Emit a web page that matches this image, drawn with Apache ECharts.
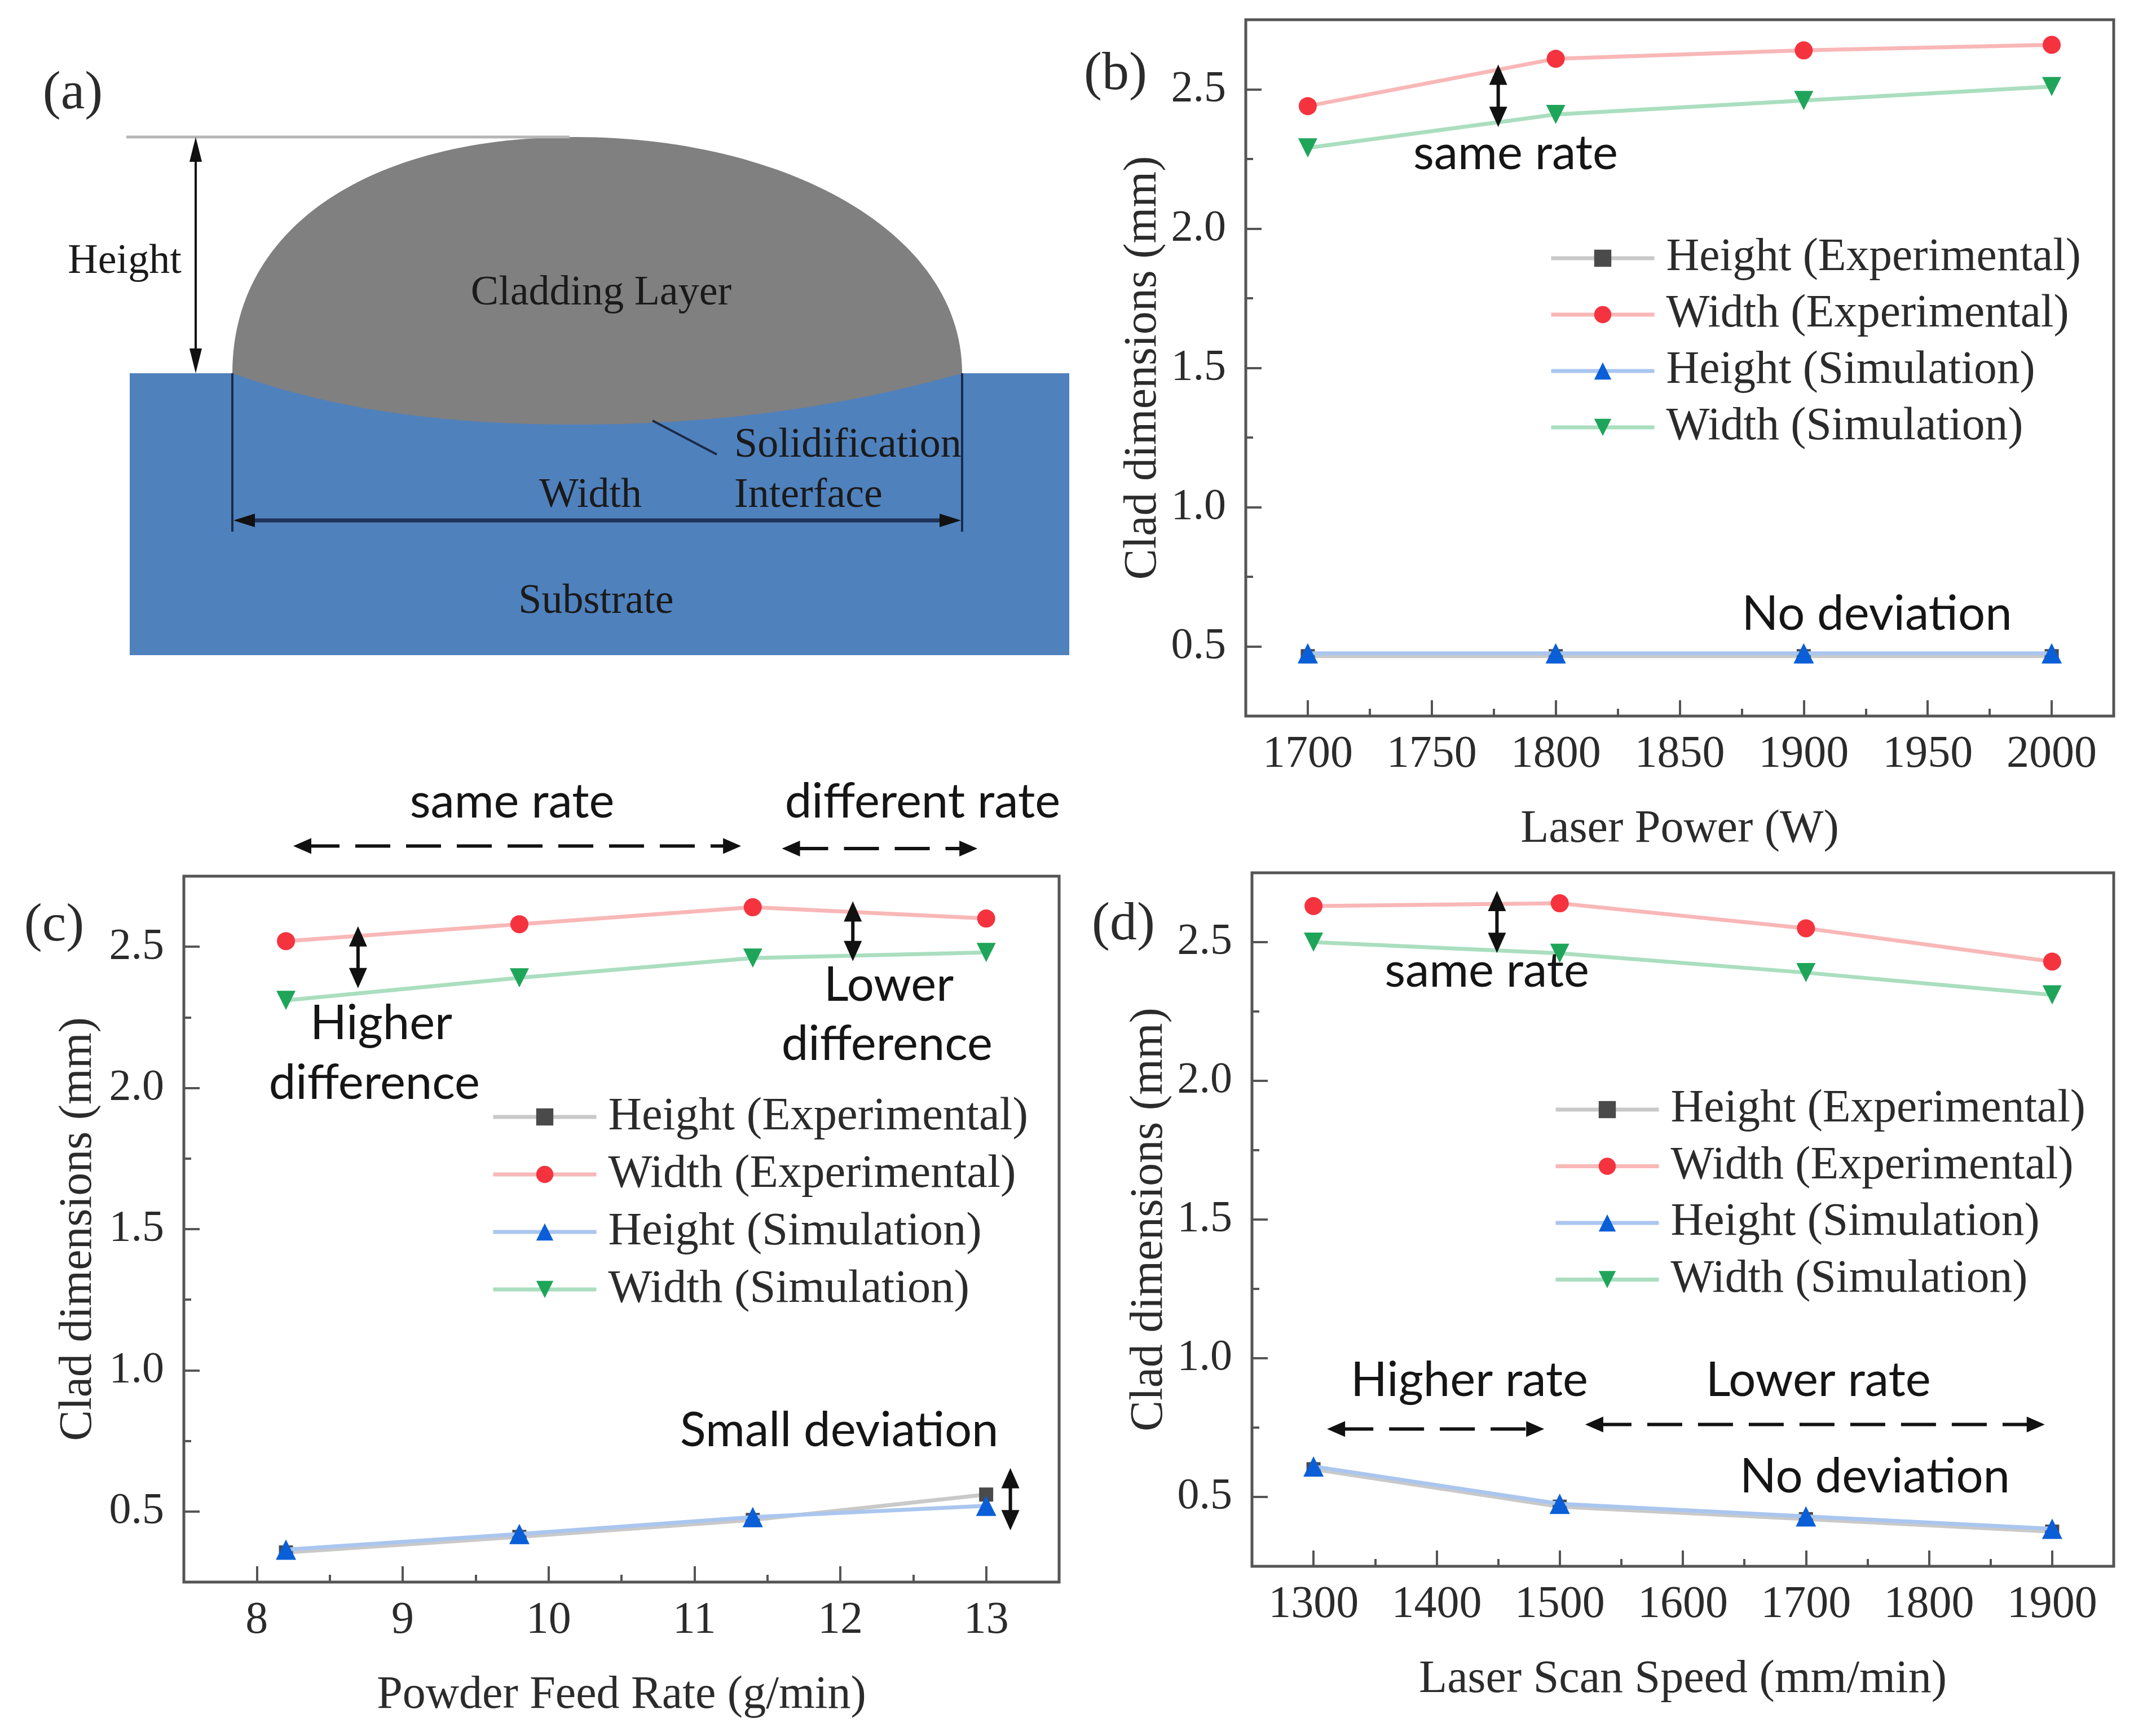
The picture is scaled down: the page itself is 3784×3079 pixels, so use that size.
<!DOCTYPE html>
<html>
<head>
<meta charset="utf-8">
<title>Clad dimensions</title>
<script src="https://cdn.jsdelivr.net/npm/echarts@6/dist/echarts.min.js"></script>
<style>
html, body { margin: 0; padding: 0; background: #fff; }
#chart0 { width: 3784px; height: 3079px; }
</style>
</head>
<body>
<div id="chart0"></div>
<script>
'use strict';

var seriesNames = ['Height (Experimental)', 'Width (Experimental)', 'Height (Simulation)', 'Width (Simulation)'];
var yTicks = [0.5, 1.0, 1.5, 2.0, 2.5];
var yMinorTicks = [0.75, 1.25, 1.75, 2.25];

// (b) laser power
var powerW = [1700, 1800, 1900, 2000];
var powerHeightExp = [0.465, 0.465, 0.465, 0.465];
var powerWidthExp = [2.44, 2.61, 2.64, 2.66];
var powerHeightSim = [0.475, 0.475, 0.475, 0.475];
var powerWidthSim = [2.29, 2.41, 2.46, 2.51];
var powerTicks = [1700, 1750, 1800, 1850, 1900, 1950, 2000];
var powerMinorTicks = [1725, 1775, 1825, 1875, 1925, 1975];

// (c) powder feed rate
var feedRate = [8.2, 9.8, 11.4, 13];
var feedHeightExp = [0.355, 0.41, 0.47, 0.56];
var feedWidthExp = [2.52, 2.58, 2.64, 2.60];
var feedHeightSim = [0.365, 0.42, 0.48, 0.52];
var feedWidthSim = [2.31, 2.39, 2.46, 2.48];
var feedTicks = [8, 9, 10, 11, 12, 13];
var feedMinorTicks = [8.5, 9.5, 10.5, 11.5, 12.5];

// (d) scan speed
var scanSpeed = [1300, 1500, 1700, 1900];
var scanHeightExp = [0.60, 0.465, 0.42, 0.375];
var scanWidthExp = [2.63, 2.64, 2.55, 2.43];
var scanHeightSim = [0.61, 0.475, 0.43, 0.385];
var scanWidthSim = [2.50, 2.46, 2.39, 2.31];
var scanTicks = [1300, 1400, 1500, 1600, 1700, 1800, 1900];
var scanMinorTicks = [1350, 1450, 1550, 1650, 1750, 1850];

// annotations in data units: x1, y1, x2, y2, dashed
var powerArrows = [[1776.8, 2.589, 1776.8, 2.365, 0]];
var feedArrows = [
	[8.25, 2.857, 11.32, 2.857, 1],
	[11.6, 2.848, 12.94, 2.848, 1],
	[8.694, 2.573, 8.694, 2.353, 0],
	[12.086, 2.661, 12.086, 2.449, 0],
	[13.166, 0.654, 13.166, 0.433, 0]
];
var scanArrows = [
	[1449, 2.685, 1449, 2.461, 0],
	[1311, 0.745, 1487.4, 0.745, 1],
	[1520.7, 0.761, 1894, 0.761, 1]
];

// notes: x, y, text
var powerNotes = [[1783.8, 2.27, 'same rate'], [1929.5, 0.615, 'No deviation']];
var feedNotes = [
	[9.75, 3.013, 'same rate'],
	[12.564, 3.013, 'different rate'],
	[8.853, 2.227, 'Higher'],
	[8.806, 2.015, 'difference'],
	[12.333, 2.363, 'Lower'],
	[12.32, 2.154, 'difference'],
	[11.993, 0.786, 'Small deviation']
];
var scanNotes = [
	[1440.8, 2.395, 'same rate'],
	[1426.6, 0.92, 'Higher rate'],
	[1710, 0.92, 'Lower rate'],
	[1756, 0.571, 'No deviation']
];

var SERIF = '"Liberation Serif", serif';
var TEXT_COLOR = '#2b2b2b';
var FRAME_COLOR = '#555555';
var markerStyles = [
	{ symbol : 'rect', size : 25, rotate : 0, color : '#4a4a4a', line : '#c9c9c9' },
	{ symbol : 'circle', size : 32, rotate : 0, color : '#f5333f', line : '#f9b7b7' },
	{ symbol : 'triangle', size : 36, rotate : 0, color : '#0a5fd8', line : '#aac6ef' },
	{ symbol : 'triangle', size : 34, rotate : 180, color : '#1fa55a', line : '#aadebf' }
];

var panels = [ {
	grid : { left : 2209, top : 35, width : 1539, height : 1235 },
	xMin : 1675, xMax : 2025, xName : 'Laser Power (W)', yNameGap : 141,
	xs : powerW, values : [ powerHeightExp, powerWidthExp, powerHeightSim, powerWidthSim ],
	ticks : powerTicks, minorTicks : powerMinorTicks,
	arrows : powerArrows, notes : powerNotes,
	legend : { left : 2747, row : 458, gap : 100, fontSize : 81.5 }
}, {
	grid : { left : 326, top : 1554, width : 1552, height : 1252 },
	xMin : 7.5, xMax : 13.5, xName : 'Powder Feed Rate (g/min)', yNameGap : 146,
	xs : feedRate, values : [ feedHeightExp, feedWidthExp, feedHeightSim, feedWidthSim ],
	ticks : feedTicks, minorTicks : feedMinorTicks,
	arrows : feedArrows, notes : feedNotes,
	legend : { left : 871, row : 1981, gap : 102, fontSize : 82.5 }
}, {
	grid : { left : 2220, top : 1548, width : 1528, height : 1230 },
	xMin : 1250, xMax : 1950, xName : 'Laser Scan Speed (mm/min)', yNameGap : 141,
	xs : scanSpeed, values : [ scanHeightExp, scanWidthExp, scanHeightSim, scanWidthSim ],
	ticks : scanTicks, minorTicks : scanMinorTicks,
	arrows : scanArrows, notes : scanNotes,
	legend : { left : 2755, row : 1968, gap : 100.5, fontSize : 81.5 }
} ];

function renderArrow(params, api) {
	var a = api.coord([ api.value(0), api.value(1) ]);
	var b = api.coord([ api.value(2), api.value(3) ]);
	var dashed = api.value(4) === 1;
	var len = Math.sqrt((b[0] - a[0]) * (b[0] - a[0]) + (b[1] - a[1]) * (b[1] - a[1]));
	var ux = (b[0] - a[0]) / len, uy = (b[1] - a[1]) / len;
	var headLen = dashed ? 32 : 36, headW = dashed ? 14 : 16;
	function head(tip, dir) {
		var bx = tip[0] - ux * dir * headLen, by = tip[1] - uy * dir * headLen;
		return {
			type : 'polygon',
			shape : { points : [ tip, [ bx - uy * headW, by + ux * headW ], [ bx + uy * headW, by - ux * headW ] ] },
			style : { fill : '#111' }
		};
	}
	return {
		type : 'group',
		children : [ {
			type : 'line',
			shape : { x1 : a[0] + ux * 20, y1 : a[1] + uy * 20, x2 : b[0] - ux * 20, y2 : b[1] - uy * 20 },
			style : { stroke : '#111', lineWidth : 6, lineDash : dashed ? [ 62, 28 ] : null }
		}, head(a, -1), head(b, 1) ]
	};
}

function makeNoteRenderer(notes) {
	return function(params, api) {
		var note = notes[params.dataIndex];
		var p = api.coord([ note[0], note[1] ]);
		return {
			type : 'text',
			style : {
				x : p[0], y : p[1], text : note[2],
				fill : '#151515', fontFamily : 'Lato', fontSize : 85,
				align : 'center', verticalAlign : 'middle'
			}
		};
	};
}

function yLabel(v) {
	return v.toFixed(1);
}

function xLabel(v) {
	return String(v);
}

var option = {
	animation : false,
	backgroundColor : '#ffffff',
	title : [ [ '(a)', 129, 167 ], [ '(b)', 1978, 133 ], [ '(c)', 96, 1643 ], [ '(d)', 1992, 1641 ] ].map(function(t) {
		return {
			text : t[0], left : t[1], top : t[2], padding : 0,
			textAlign : 'center', textVerticalAlign : 'middle',
			textStyle : { fontFamily : SERIF, fontSize : 96, fontWeight : 'normal', color : TEXT_COLOR }
		};
	}),
	grid : [],
	xAxis : [],
	yAxis : [],
	legend : [],
	series : []
};

panels.forEach(function(panel, i) {
	var axisIndex = i * 2;
	option.grid.push({
		left : panel.grid.left, top : panel.grid.top,
		width : panel.grid.width, height : panel.grid.height,
		show : true, borderWidth : 5, borderColor : FRAME_COLOR, backgroundColor : 'transparent'
	});
	// main axes, then one overlay pair that only carries the short minor ticks
	option.xAxis.push({
		type : 'value', gridIndex : i, position : 'bottom', min : panel.xMin, max : panel.xMax,
		name : panel.xName, nameLocation : 'middle', nameGap : 160,
		nameTextStyle : { fontFamily : SERIF, fontSize : 82, color : TEXT_COLOR },
		axisLine : { show : false }, splitLine : { show : false },
		axisTick : { inside : true, length : 28, customValues : panel.ticks, lineStyle : { color : FRAME_COLOR, width : 4 } },
		axisLabel : { customValues : panel.ticks, formatter : xLabel, margin : 29, fontFamily : SERIF, fontSize : 80, color : TEXT_COLOR }
	}, {
		type : 'value', gridIndex : i, position : 'bottom', min : panel.xMin, max : panel.xMax,
		axisLine : { show : false }, splitLine : { show : false }, axisLabel : { show : false },
		axisTick : { inside : true, length : 13, customValues : panel.minorTicks, lineStyle : { color : FRAME_COLOR, width : 4 } }
	});
	option.yAxis.push({
		type : 'value', gridIndex : i, position : 'left', min : 0.25, max : 2.75,
		name : 'Clad dimensions (mm)', nameLocation : 'middle', nameGap : panel.yNameGap,
		nameTextStyle : { fontFamily : SERIF, fontSize : 82, color : TEXT_COLOR },
		axisLine : { show : false }, splitLine : { show : false },
		axisTick : { inside : true, length : 28, customValues : yTicks, lineStyle : { color : FRAME_COLOR, width : 4 } },
		axisLabel : { customValues : yTicks, formatter : yLabel, margin : 35, fontFamily : SERIF, fontSize : 78, color : TEXT_COLOR }
	}, {
		type : 'value', gridIndex : i, position : 'left', min : 0.25, max : 2.75,
		axisLine : { show : false }, splitLine : { show : false }, axisLabel : { show : false },
		axisTick : { inside : true, length : 13, customValues : yMinorTicks, lineStyle : { color : FRAME_COLOR, width : 4 } }
	});
	option.legend.push({
		data : seriesNames, orient : 'vertical', left : panel.legend.left, top : panel.legend.row - 42,
		padding : 0, itemWidth : 183, itemHeight : 38, itemGap : panel.legend.gap - 84, selectedMode : false,
		lineStyle : { width : 7 },
		textStyle : { fontFamily : SERIF, fontSize : panel.legend.fontSize, lineHeight : 84, color : TEXT_COLOR, padding : [ 0, 0, 0, 16 ] }
	});
	seriesNames.forEach(function(name, k) {
		var style = markerStyles[k];
		option.series.push({
			name : name, type : 'line', xAxisIndex : axisIndex, yAxisIndex : axisIndex,
			symbol : style.symbol, symbolSize : style.size, symbolRotate : style.rotate,
			itemStyle : { color : style.color },
			lineStyle : { color : style.line, width : 7 },
			data : panel.xs.map(function(x, n) {
				return [ x, panel.values[k][n] ];
			}),
			z : 3 + k, silent : true
		});
	});
	option.series.push({
		type : 'custom', xAxisIndex : axisIndex, yAxisIndex : axisIndex, clip : false, silent : true, z : 8,
		renderItem : renderArrow, data : panel.arrows
	}, {
		type : 'custom', xAxisIndex : axisIndex, yAxisIndex : axisIndex, clip : false, silent : true, z : 8,
		renderItem : makeNoteRenderer(panel.notes),
		data : panel.notes.map(function(n) {
			return [ n[0], n[1] ];
		})
	});
});

// (a) is a schematic, not data, so it goes in as plain graphic shapes
function schematicText(text, x, y, align) {
	return {
		type : 'text', z : 10,
		style : { text : text, x : x, y : y, fill : '#1a1a1a', fontFamily : SERIF, fontSize : 74, align : align || 'center', verticalAlign : 'middle' }
	};
}

function schematicLine(x1, y1, x2, y2, color, width) {
	return {
		type : 'line', z : 9,
		shape : { x1 : x1, y1 : y1, x2 : x2, y2 : y2 },
		style : { stroke : color, lineWidth : width }
	};
}

function schematicHead(points, color) {
	return { type : 'polygon', z : 9, shape : { points : points }, style : { fill : color } };
}

// outline of the cladding layer: start point, then cubic segments
var cladStart = [ 412, 662 ];
var cladCurves = [
	[ 412, 400, 660, 243, 1020, 243 ],
	[ 1390, 243, 1706, 410, 1706, 662 ],
	[ 1500, 720, 1280, 753, 1020, 753 ],
	[ 800, 753, 600, 730, 412, 662 ]
];

function outlinePoints(start, curves) {
	var pts = [ start ];
	var p0 = start;
	curves.forEach(function(c) {
		for (var n = 1; n <= 60; n++) {
			var t = n / 60, s = 1 - t;
			pts.push([
				s * s * s * p0[0] + 3 * s * s * t * c[0] + 3 * s * t * t * c[2] + t * t * t * c[4],
				s * s * s * p0[1] + 3 * s * s * t * c[1] + 3 * s * t * t * c[3] + t * t * t * c[5]
			]);
		}
		p0 = [ c[4], c[5] ];
	});
	return pts;
}

option.graphic = [ {
	type : 'rect', z : 5,
	shape : { x : 230, y : 662, width : 1666, height : 500 },
	style : { fill : '#4f81bd' }
}, {
	type : 'polygon', z : 6,
	shape : { points : outlinePoints(cladStart, cladCurves) },
	style : { fill : '#808080' }
},
	schematicLine(224, 243, 1010, 243, '#b5b5b5', 5),
	schematicLine(347, 262, 347, 642, '#111', 4),
	schematicHead([ [ 347, 243 ], [ 336, 287 ], [ 358, 287 ] ], '#111'),
	schematicHead([ [ 347, 662 ], [ 336, 618 ], [ 358, 618 ] ], '#111'),
	schematicLine(412, 662, 412, 943, '#1a2b47', 4),
	schematicLine(1706, 662, 1706, 943, '#1a2b47', 4),
	schematicLine(425, 923, 1693, 923, '#1f3358', 7),
	schematicHead([ [ 414, 923 ], [ 452, 911 ], [ 452, 935 ] ], '#111'),
	schematicHead([ [ 1704, 923 ], [ 1666, 911 ], [ 1666, 935 ] ], '#111'),
	schematicLine(1157, 746, 1271, 806, '#1a2b47', 4),
	schematicText('Height', 221, 465),
	schematicText('Cladding Layer', 1066, 521),
	schematicText('Solidification', 1302, 791, 'left'),
	schematicText('Interface', 1302, 880, 'left'),
	schematicText('Width', 1047, 880),
	schematicText('Substrate', 1057, 1068)
];

var chart0 = echarts.init(document.getElementById('chart0'));
chart0.setOption(option);
</script>
</body>
</html>
